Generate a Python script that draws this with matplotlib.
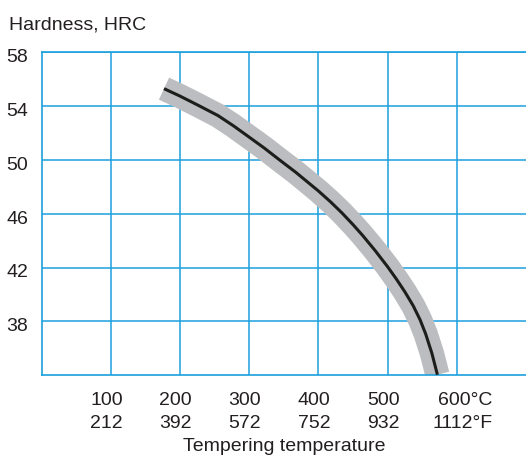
import matplotlib
matplotlib.use("Agg")
import matplotlib.pyplot as plt
import matplotlib.transforms as mtrans

# values
temp_c = [177, 200, 225, 255, 277, 300, 322, 344, 367, 400, 418, 434, 450, 464, 482,
          500, 513, 525, 537, 547, 555, 564, 572]
hardness = [55.3, 54.75, 54.1, 53.3, 52.55, 51.7, 50.88, 50.0, 49.1, 47.7, 46.87, 46.07,
            45.2, 44.39, 43.27, 42.07, 41.13, 40.2, 39.17, 38.12, 37.08, 35.64, 34.04]

x_ticks = [100, 200, 300, 400, 500, 600]
x_labels_c = ["100", "200", "300", "400", "500", "600°C"]
x_labels_f = ["212", "392", "572", "752", "932", "1112°F"]
y_ticks = [38, 42, 46, 50, 54, 58]

grid_col = "#1ca0de"
txt_col = "#231f20"
plt.rcParams["font.family"] = ["Liberation Sans", "DejaVu Sans"]
fs = 14

fig = plt.figure(figsize=(5.26, 4.55), dpi=100)
ax = fig.add_axes([0.0789, 0.1752, 1.0 - 0.0789, 0.885 - 0.1752])
ax.set_xlim(0, 700)
ax.set_ylim(34, 58)

for v in x_ticks:
    ax.axvline(v, color=grid_col, lw=1.1, zorder=1)
for v in y_ticks:
    ax.axhline(v, color=grid_col, lw=1.1, zorder=1)

for s in ["left", "bottom", "top"]:
    ax.spines[s].set_color(grid_col)
    ax.spines[s].set_linewidth(1.2)
ax.spines["right"].set_visible(False)

# grey tolerance band and mean curve
ax.plot(temp_c, hardness, color="#bcbdc0", lw=17.5, solid_capstyle="butt",
        solid_joinstyle="round", zorder=2)
ax.plot(temp_c, hardness, color="#1d1d1b", lw=2.2, solid_capstyle="butt",
        solid_joinstyle="round", zorder=3)

ax.set_xticks([])
ax.set_yticks(y_ticks)
ax.set_yticklabels([str(v) for v in y_ticks], fontsize=fs, color=txt_col)
ax.tick_params(axis="y", length=0, pad=9.5)
off = mtrans.ScaledTranslation(0, -0.097, fig.dpi_scale_trans)
for lab in ax.get_yticklabels():
    lab.set_va("baseline")
    lab.set_transform(lab.get_transform() + off)

tr = mtrans.blended_transform_factory(ax.transData, fig.transFigure)
for i, v in enumerate(x_ticks):
    xr = v + 17.3 if i < len(x_ticks) - 1 else 652
    ax.text(xr, 0.1099, x_labels_c[i], transform=tr, ha="right", va="baseline",
            fontsize=fs, color=txt_col)
    ax.text(xr, 0.0586, x_labels_f[i], transform=tr, ha="right", va="baseline",
            fontsize=fs, color=txt_col)

ax.text(0.5, 0.008, "Tempering temperature", transform=mtrans.blended_transform_factory(
    ax.transAxes, fig.transFigure), ha="center", va="baseline", fontsize=fs, color=txt_col)
fig.text(0.0177, 0.9356, "Hardness, HRC", ha="left", va="baseline", fontsize=fs,
         color=txt_col)

fig.savefig("out.png", dpi=100)
